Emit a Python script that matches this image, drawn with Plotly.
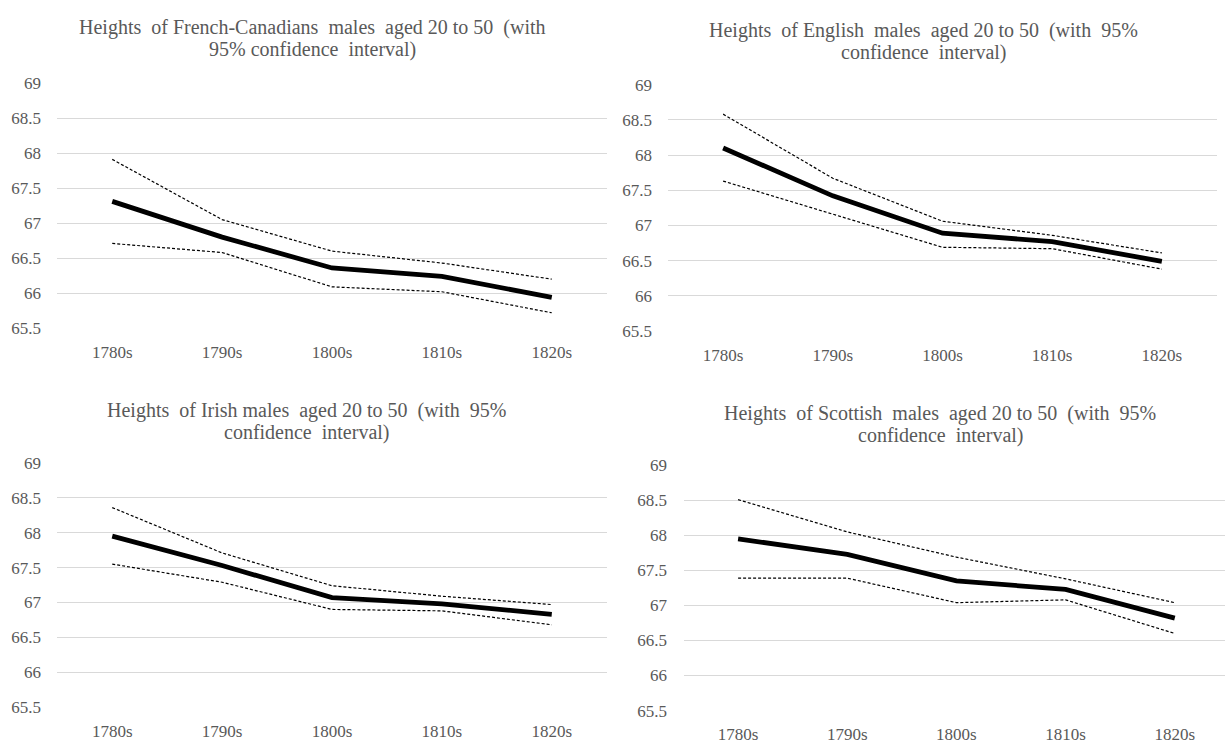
import plotly.graph_objects as go

decades = ["1780s", "1790s", "1800s", "1810s", "1820s"]

fc_mean = [67.31, 66.80, 66.36, 66.24, 65.94]
fc_upper = [67.91, 67.05, 66.60, 66.43, 66.20]
fc_lower = [66.71, 66.58, 66.09, 66.02, 65.72]

en_mean = [68.10, 67.42, 66.89, 66.77, 66.49]
en_upper = [68.58, 67.67, 67.06, 66.86, 66.61]
en_lower = [67.63, 67.16, 66.69, 66.67, 66.38]

ir_mean = [67.95, 67.53, 67.07, 66.98, 66.83]
ir_upper = [68.36, 67.71, 67.24, 67.09, 66.97]
ir_lower = [67.55, 67.29, 66.90, 66.88, 66.68]

sc_mean = [67.95, 67.73, 67.35, 67.23, 66.82]
sc_upper = [68.51, 68.05, 67.69, 67.38, 67.04]
sc_lower = [67.39, 67.39, 67.04, 67.08, 66.60]

title_lines = [
    ("Heights  of French-Canadians  males  aged 20 to 50  (with", "95% confidence  interval)"),
    ("Heights  of English  males  aged 20 to 50  (with  95%", "confidence  interval)"),
    ("Heights  of Irish males  aged 20 to 50  (with  95%", "confidence  interval)"),
    ("Heights  of Scottish  males  aged 20 to 50  (with  95%", "confidence  interval)"),
]

panels = [
    (fc_mean, fc_upper, fc_lower),
    (en_mean, en_upper, en_lower),
    (ir_mean, ir_upper, ir_lower),
    (sc_mean, sc_upper, sc_lower),
]

W, H = 1225, 750
# pixel boxes: (x0, x1, ytop, ybottom, xrange_end)
boxes = [
    (57.3, 606.7, 75.7, 327.7, 4.5),
    (668.3, 1216.7, 77.3, 330.7, 4.5),
    (57.3, 606.7, 465.5, 716.5, 4.5),
    (683.5, 1225.0, 468.0, 720.0, 4.46),
]
# title centre x, line-1 centre y, line-2 centre y
title_pos = [(312, 19, 42), (923, 22, 45), (306, 412, 435), (940, 415, 438)]

font_family = "Liberation Serif, Times New Roman, serif"
text_color = "#595959"

fig = go.Figure()
layout = dict(
    width=W, height=H,
    margin=dict(l=0, r=0, t=0, b=0),
    paper_bgcolor="white", plot_bgcolor="white",
    showlegend=False,
    font=dict(family=font_family, color=text_color, size=17),
    annotations=[],
)

for i, ((m, u, l), (x0, x1, yt, yb, xr)) in enumerate(zip(panels, boxes)):
    n = i + 1
    xa = "x" if n == 1 else f"x{n}"
    ya = "y" if n == 1 else f"y{n}"
    for vals, width, dash in ((u, 1.2, "3px,2px"), (l, 1.2, "3px,2px"), (m, 4.8, "solid")):
        fig.add_trace(go.Scatter(
            x=decades, y=vals, mode="lines", xaxis=xa, yaxis=ya,
            line=dict(color="black", width=width, dash=dash),
            hoverinfo="x+y",
        ))
    xkey = "xaxis" if n == 1 else f"xaxis{n}"
    ykey = "yaxis" if n == 1 else f"yaxis{n}"
    layout[xkey] = dict(
        domain=[x0 / W, x1 / W], anchor=ya, type="category",
        range=[-0.5, xr], showgrid=False, zeroline=False, showline=False,
        ticks="outside", ticklen=8, tickcolor="rgba(0,0,0,0)",
        tickfont=dict(family=font_family, size=17, color=text_color),
        fixedrange=True,
    )
    layout[ykey] = dict(
        domain=[1 - yb / H, 1 - yt / H], anchor=xa,
        range=[65.497, 69.003], tick0=65.5, dtick=0.5,
        showgrid=True, gridcolor="#d9d9d9", gridwidth=1,
        zeroline=False, showline=False,
        ticks="outside", ticklen=12, tickcolor="rgba(0,0,0,0)",
        tickfont=dict(family=font_family, size=17, color=text_color),
        fixedrange=True,
    )
    tx, ty1, ty2 = title_pos[i]
    for txt, ty in zip(title_lines[i], (ty1, ty2)):
        layout["annotations"].append(dict(
            text=txt, x=tx / W, y=1 - ty / H, xref="paper", yref="paper",
            xanchor="center", yanchor="middle", showarrow=False,
            font=dict(family=font_family, size=20, color=text_color),
        ))

fig.update_layout(**layout)
fig.write_html(
    "out.html",
    config={"displayModeBar": False},
    post_script="document.body.style.margin='0px';",
)
